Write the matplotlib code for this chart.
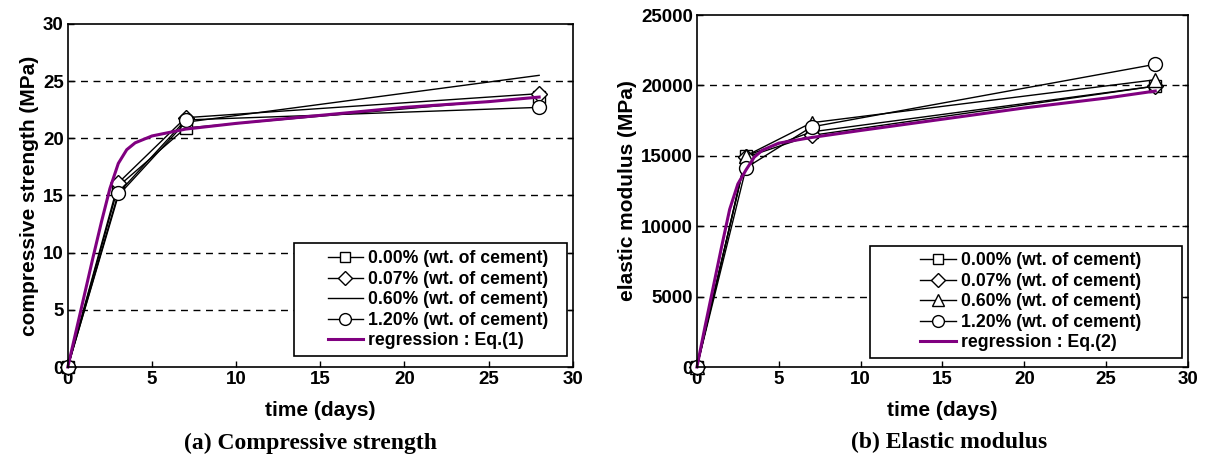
import matplotlib.pyplot as plt
from matplotlib.patches import Rectangle

# time (days)
days = [0, 3, 7, 28]

# (a) compressive strength (MPa)
cs_000 = [0, 15.8, 20.9, 23.6]
cs_007 = [0, 16.1, 21.8, 23.9]
cs_060 = [0, 15.0, 21.4, 25.5]
cs_120 = [0, 15.2, 21.6, 22.7]
cs_reg_t = [0, 0.5, 1, 1.5, 2, 2.5, 3, 3.5, 4, 5, 6, 7, 10, 15, 20, 25, 28]
cs_reg = [0, 3.2, 6.4, 9.6, 12.7, 15.6, 17.8, 19.0, 19.6, 20.2, 20.5, 20.8,
          21.3, 22.0, 22.7, 23.2, 23.6]

# (b) elastic modulus (MPa)
em_000 = [0, 15000, 16700, 19950]
em_007 = [0, 14900, 16450, 19950]
em_060 = [0, 15000, 17350, 20400]
em_120 = [0, 14150, 17050, 21500]
em_reg_t = [0, 0.5, 1, 1.5, 2, 2.5, 3, 3.5, 4, 5, 7, 10, 15, 20, 25, 28]
em_reg = [0, 2900, 5700, 8500, 11200, 13000, 14000, 14900, 15400, 15900,
          16300, 16800, 17600, 18400, 19100, 19600]

labels = ['0.00% (wt. of cement)', '0.07% (wt. of cement)',
          '0.60% (wt. of cement)', '1.20% (wt. of cement)']
purple = '#800080'

plt.rcParams['font.family'] = 'Liberation Sans'
plt.rcParams['font.weight'] = 'bold'

fig = plt.figure(figsize=(12.11, 4.59), dpi=100)
ax1 = fig.add_axes([0.056, 0.2004, 0.417, 0.7476])
ax2 = fig.add_axes([0.5755, 0.2004, 0.4055, 0.7669])

mk = dict(color='black', lw=1, mfc='white', mec='black', ms=9, mew=1)

ax1.plot(days, cs_000, marker='s', label=labels[0], **mk)
ax1.plot(days, cs_007, marker='D', label=labels[1], **dict(mk, ms=8))
ax1.plot(days, cs_060, color='black', lw=1, label=labels[2])
ax1.plot(days, cs_120, marker='o', label=labels[3], **dict(mk, ms=10))
ax1.plot(cs_reg_t, cs_reg, color=purple, lw=2.2, label='regression : Eq.(1)')

ax2.plot(days, em_000, marker='s', label=labels[0], **mk)
ax2.plot(days, em_007, marker='D', label=labels[1], **dict(mk, ms=8))
ax2.plot(days, em_060, marker='^', label=labels[2], **dict(mk, ms=10))
ax2.plot(days, em_120, marker='o', label=labels[3], **dict(mk, ms=10))
ax2.plot(em_reg_t, em_reg, color=purple, lw=2.2, label='regression : Eq.(2)')

# legend frame (x0, y0, x1, y1 in axes fraction) and legend centre
settings = [
    (ax1, 30, 5, 'compressive strength (MPa)', (0.4475, 0.032, 0.988, 0.36),
     (0.733, 0.196)),
    (ax2, 25000, 5000, 'elastic modulus (MPa)', (0.352, 0.026, 0.988, 0.344),
     (0.68, 0.185)),
]

for ax, ymax, ystep, ylab, box, center in settings:
    ax.set_xlim(0, 30)
    ax.set_ylim(0, ymax)
    ax.set_xticks(range(0, 31, 5))
    ax.set_yticks(range(0, ymax + 1, ystep))
    for y in range(ystep, ymax, ystep):
        ax.axhline(y, color='black', lw=1, ls=(0, (5, 4)), zorder=0)
    ax.tick_params(direction='in', length=4, width=1, labelsize=13.5,
                   top=False, right=True, pad=3)
    for lab in ax.get_xticklabels() + ax.get_yticklabels():
        lab.set_fontweight('bold')
    for sp in ax.spines.values():
        sp.set_linewidth(1.2)
    ax.set_xlabel('time (days)', fontsize=15, fontweight='bold', labelpad=9)
    ax.set_ylabel(ylab, fontsize=15, fontweight='bold', labelpad=3)
    for line in ax.get_lines():
        line.set_clip_on(False)
    frame = Rectangle((box[0], box[1]), box[2] - box[0], box[3] - box[1],
                      transform=ax.transAxes, facecolor='white',
                      edgecolor='black', lw=1.2, zorder=4)
    ax.add_patch(frame)
    leg = ax.legend(loc='center', bbox_to_anchor=center,
                    prop={'size': 12.7, 'weight': 'bold'}, frameon=False,
                    handlelength=2.0, handletextpad=0.3, labelspacing=0.2,
                    borderpad=0.0, markerscale=0.85)
    leg.set_zorder(5)

fig.text(0.256, 0.035, '(a) Compressive strength', ha='center', va='center',
         family='Liberation Serif', fontsize=17, fontweight='bold')
fig.text(0.784, 0.035, '(b) Elastic modulus', ha='center', va='center',
         family='Liberation Serif', fontsize=17, fontweight='bold')

fig.savefig('out.png', dpi=100)
